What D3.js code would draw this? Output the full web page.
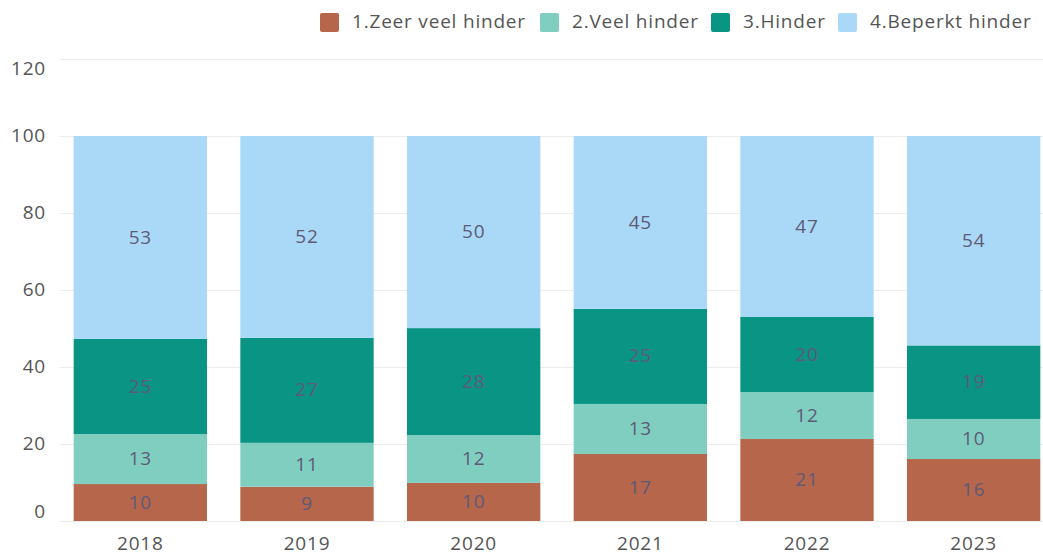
<!DOCTYPE html>
<html lang="nl">
<head>
<meta charset="UTF-8">
<title>Hinder</title>
<script src="https://d3js.org/d3.v7.min.js"></script>
<style>
  body { margin: 0; background: #fff; }
  svg text { font-family: "Open Sans", "Noto Sans", sans-serif; letter-spacing: 0.8px; }
</style>
</head>
<body>
<div class="chartContainer"></div>
<script>
// Data (percent per year)
const years = ['2018', '2019', '2020', '2021', '2022', '2023'];
const categories = ['1.Zeer veel hinder', '2.Veel hinder', '3.Hinder', '4.Beperkt hinder'];
const zeerVeel = [9.6, 8.9, 9.9, 17.4, 21.3, 16.1];
const veel     = [13.0, 11.4, 12.4, 13.0, 12.2, 10.4];
const hinder   = [24.7, 27.3, 27.8, 24.7, 19.5, 19.1];
const beperkt  = [52.7, 52.4, 49.9, 44.9, 47.0, 54.4];
const yTicks = [0, 20, 40, 60, 80, 100, 120];
const colors = ['#b5664b', '#80cec0', '#0a9484', '#a9d9f6'];

const width = 1043, height = 556;
const svg = d3.select('.chartContainer').append('svg')
  .attr('width', width).attr('height', height);

const series = [zeerVeel, veel, hinder, beperkt];
const rows = years.map((y, i) => {
  const r = { year: y };
  categories.forEach((c, k) => r[c] = series[k][i]);
  return r;
});
const stacked = d3.stack().keys(categories)(rows);

const x = d3.scaleBand().domain(years).range([57, 1057]).paddingInner(0.2).paddingOuter(0.1);
const y = d3.scaleLinear().domain([0, 120]).range([521, 59]);

// grid
svg.append('g').selectAll('line').data(yTicks).enter().append('line')
  .attr('x1', 60).attr('x2', width)
  .attr('y1', d => y(d) + 0.5).attr('y2', d => y(d) + 0.5)
  .attr('stroke', '#ececec').attr('stroke-width', 1);

// y labels
svg.append('g').selectAll('text').data(yTicks).enter().append('text')
  .attr('x', 46)
  .attr('y', d => d === 120 ? y(d) + 11 : d === 0 ? y(d) - 8 : y(d) + 1)
  .attr('text-anchor', 'end').attr('dominant-baseline', 'middle')
  .attr('font-size', 19).attr('fill', '#555')
  .text(d => d);

// bars
const layer = svg.append('g').selectAll('g').data(stacked).enter().append('g')
  .attr('fill', (d, i) => colors[i]);
layer.selectAll('rect').data(d => d).enter().append('rect')
  .attr('x', d => x(d.data.year))
  .attr('width', x.bandwidth())
  .attr('y', d => y(d[1]))
  .attr('height', d => y(d[0]) - y(d[1]));

// value labels
layer.selectAll('text').data(d => d).enter().append('text')
  .attr('x', d => x(d.data.year) + x.bandwidth() / 2)
  .attr('y', d => (y(d[0]) + y(d[1])) / 2 + 1)
  .attr('text-anchor', 'middle').attr('dominant-baseline', 'middle')
  .attr('font-size', 19).attr('fill', '#5e5a78')
  .text(d => Math.round(d[1] - d[0]));

// x labels
svg.append('g').selectAll('text').data(years).enter().append('text')
  .attr('x', d => x(d) + x.bandwidth() / 2)
  .attr('y', 545)
  .attr('text-anchor', 'middle').attr('dominant-baseline', 'middle')
  .attr('font-size', 19).attr('fill', '#555')
  .text(d => d);

// legend
const legendX = [320, 540, 711, 838];
const legend = svg.append('g').selectAll('g').data(categories).enter().append('g')
  .attr('transform', (d, i) => `translate(${legendX[i]},13)`);
legend.append('rect').attr('width', 19).attr('height', 19).attr('rx', 2)
  .attr('fill', (d, i) => colors[i]);
legend.append('text').attr('x', 32).attr('y', 10)
  .attr('dominant-baseline', 'middle').attr('font-size', 19).attr('fill', '#555')
  .text(d => d);
</script>
</body>
</html>
